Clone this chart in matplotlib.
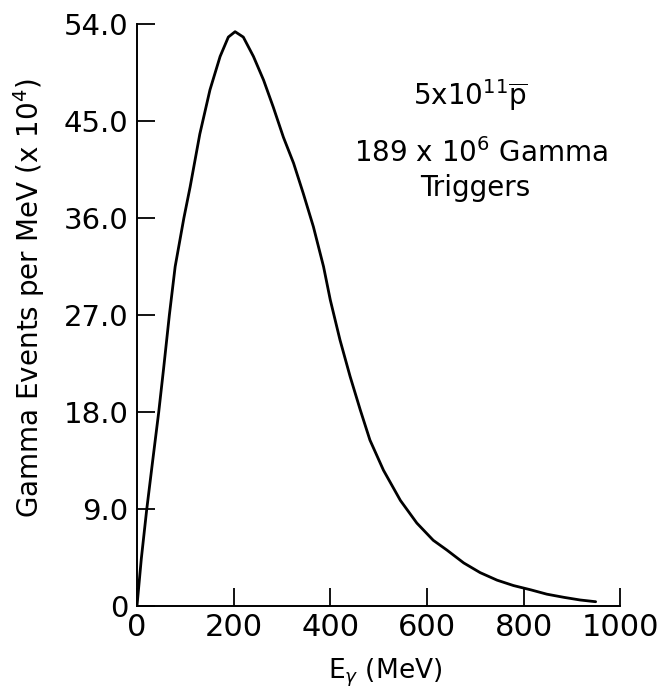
import matplotlib
matplotlib.use("Agg")
import matplotlib.pyplot as plt

# curve (E in MeV, events per MeV x 10^4)
energy = [0, 9, 20, 32, 45, 55, 67, 79, 97, 110, 130, 151, 172, 189, 203,
          220, 241, 262, 282, 303, 324, 344, 365, 386, 400, 420, 441, 462,
          482, 510, 545, 579, 613, 641, 676, 710, 745, 779, 815, 848, 884,
          917, 949]
events = [0, 4.4, 8.9, 13.3, 18.0, 22.0, 27.0, 31.5, 36.0, 38.9, 43.8, 47.9,
          51.0, 52.8, 53.3, 52.8, 51.0, 48.8, 46.3, 43.5, 41.1, 38.3, 35.2,
          31.5, 28.4, 24.7, 21.3, 18.2, 15.4, 12.6, 9.8, 7.7, 6.1, 5.2, 4.0,
          3.1, 2.4, 1.9, 1.5, 1.1, 0.8, 0.56, 0.4]

xticks = [0, 200, 400, 600, 800, 1000]
yticks = [0, 9, 18, 27, 36, 45, 54]
ytick_labels = ["0", "9.0", "18.0", "27.0", "36.0", "45.0", "54.0"]

fig = plt.figure(figsize=(6.63, 6.9), dpi=100)
ax = fig.add_axes([0.2066, 0.1217, 0.729, 0.8433])

ax.plot(energy, events, color="black", lw=2.0, solid_capstyle="round",
        solid_joinstyle="round")

ax.set_xlim(0, 1000)
ax.set_ylim(0, 54)
ax.set_xticks(xticks)
ax.set_xticklabels([str(t) for t in xticks])
ax.set_yticks(yticks)
ax.set_yticklabels(ytick_labels)

for s in ["top", "right"]:
    ax.spines[s].set_visible(False)
for s in ["left", "bottom"]:
    ax.spines[s].set_linewidth(1.4)

ax.tick_params(axis="both", direction="in", length=13, width=1.3, color="black")
ax.tick_params(axis="x", labelsize=22, pad=5)
ax.tick_params(axis="y", labelsize=21, pad=6)

ax.set_xlabel(r"E$_\gamma$ (MeV)", fontsize=19)
ax.xaxis.label.set_verticalalignment("baseline")
ax.xaxis.set_label_coords(0.513, -0.124)
ax.set_ylabel(r"Gamma Events per MeV (x 10$^4$)", fontsize=20)
ax.yaxis.set_label_coords(-0.186, 0.53)

ax.text(0.689, 0.861, r"5x10$^{11}\overline{\mathrm{p}}$", transform=ax.transAxes,
        ha="center", va="baseline", fontsize=20)
ax.text(0.712, 0.763, r"189 x 10$^6$ Gamma", transform=ax.transAxes,
        ha="center", va="baseline", fontsize=20)
ax.text(0.70, 0.705, "Triggers", transform=ax.transAxes,
        ha="center", va="baseline", fontsize=20)

fig.savefig("out.png", dpi=100)
